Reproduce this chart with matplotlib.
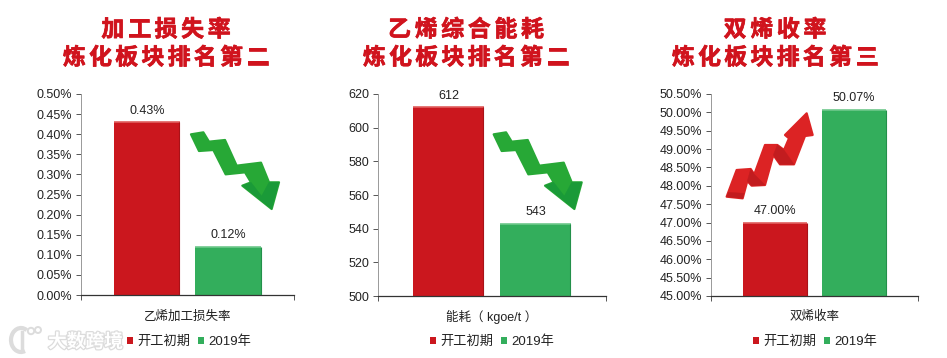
import matplotlib
matplotlib.use('Agg')
import matplotlib.pyplot as plt
from matplotlib.patches import Polygon, Circle, Arc
from matplotlib import patheffects as pe

W, H = 947, 358
plt.rcParams['font.family'] = ['Liberation Sans', 'Noto Sans CJK SC']

# datos de cada panel
series_names = ['开工初期', '2019年']
titles = [['加工损失率', '炼化板块排名第二'],
          ['乙烯综合能耗', '炼化板块排名第二'],
          ['双烯收率', '炼化板块排名第三']]
categories = ['乙烯加工损失率', '能耗（ kgoe/t ）', '双烯收率']

loss_values = [0.43, 0.12]
energy_values = [612, 543]
yield_values = [47.00, 50.07]

loss_labels = ['0.43%', '0.12%']
energy_labels = ['612', '543']
yield_labels = ['47.00%', '50.07%']

loss_ticks = [0.00, 0.05, 0.10, 0.15, 0.20, 0.25, 0.30, 0.35, 0.40, 0.45, 0.50]
energy_ticks = [500, 520, 540, 560, 580, 600, 620]
yield_ticks = [45.0, 45.5, 46.0, 46.5, 47.0, 47.5, 48.0, 48.5, 49.0, 49.5, 50.0, 50.5]

red, red_dark, red_light = '#cb171e', '#a81218', '#e0605f'
green, green_dark, green_light = '#33ae5c', '#23904a', '#6fc88c'

fig = plt.figure(figsize=(W / 100, H / 100), dpi=100, facecolor='white')


def panel(box, values, labels, ticks, fmt, category, legend_x):
    left, top, right, bottom = box
    ax = fig.add_axes([left / W, 1 - bottom / H, (right - left) / W, (bottom - top) / H])
    ax.set_xlim(-0.5, 0.5)
    ax.set_ylim(ticks[0], ticks[-1])
    xs = [-0.191, 0.191]
    bars = []
    for x, v, lab, c, cd, cl, name in zip(xs, values, labels, [red, green], [red_dark, green_dark],
                                          [red_light, green_light], series_names):
        b = ax.bar(x, v - ticks[0], 0.31, bottom=ticks[0], color=c, label=name, zorder=2)
        bars.append(b)
        # biselado de la barra
        ax.hlines(v, x - 0.155, x + 0.155, color=cl, lw=1.2, zorder=3)
        ax.vlines(x + 0.153, ticks[0], v, color=cd, lw=0.8, zorder=3)
        ax.annotate(lab, (x, v), xytext=(0, 4), textcoords='offset points', ha='center',
                    va='bottom', fontsize=9, color='#222222', annotation_clip=False)
    ax.set_yticks(ticks)
    ax.set_yticklabels([fmt % t for t in ticks], fontsize=9, color='#222222')
    ax.set_xticks([-0.5, 0.5])
    ax.set_xticklabels([])
    ax.tick_params(axis='both', length=3.5, width=0.7, color='#555555', pad=3)
    for s in ['top', 'right']:
        ax.spines[s].set_visible(False)
    ax.spines['left'].set_color('#999999')
    ax.spines['left'].set_linewidth(0.7)
    ax.spines['bottom'].set_color('#333333')
    ax.spines['bottom'].set_linewidth(0.9)
    fig.text((left + right) / 2 / W, 1 - 317 / H, category, ha='center', va='center',
             fontsize=9, color='#222222')
    fig.legend(handles=[bars[0], bars[1]], loc='center', bbox_to_anchor=(legend_x / W, 1 - 342 / H),
               ncol=2, frameon=False, fontsize=9.5, handlelength=0.45, handleheight=0.45,
               handletextpad=0.3, columnspacing=0.6, labelcolor='#222222')
    return ax


panel((81, 94, 294, 295), loss_values, loss_labels, loss_ticks, '%.2f%%', categories[0], 189)
panel((378, 94, 606, 296), energy_values, energy_labels, energy_ticks, '%d', categories[1], 492)
panel((711, 94, 918, 296), yield_values, yield_labels, yield_ticks, '%.2f%%', categories[2], 815)

# capa de decoracion en pixeles: titulos, flechas y marca de agua
deco = fig.add_axes([0, 0, 1, 1], zorder=10)
deco.set_xlim(0, W)
deco.set_ylim(H, 0)
deco.axis('off')
deco.patch.set_alpha(0)


def spaced_title(text, cx, cy, step):
    x0 = cx - step * (len(text) - 1) / 2
    for i, ch in enumerate(text):
        deco.text(x0 + i * step, cy, ch, ha='center', va='center', fontsize=16.5, color='#d0131d',
                  family='Noto Sans CJK SC', weight='bold',
                  path_effects=[pe.withStroke(linewidth=0.5, foreground='#d0131d')])


title_centers = [166, 466, 775]
for t, cx in zip(titles, title_centers):
    spaced_title(t[0], cx, 30, 26.6)
    spaced_title(t[1], cx, 58, 26.2)

# flechas
down_arrow = [(18, 28), (55, 22), (72, 50), (120, 45), (155, 122), (228, 113), (252, 172), (282, 172),
              (260, 252), (172, 182), (198, 172), (180, 142), (122, 148), (85, 75), (42, 78)]
down_dark = [[(252, 172), (282, 172), (260, 252), (225, 222)],
             [(172, 182), (198, 172), (260, 252)]]
up_arrow = [(20, 275), (50, 195), (92, 192), (103, 208), (135, 120), (172, 120), (192, 135), (207, 100),
            (195, 90), (260, 25), (278, 90), (255, 93), (222, 178), (180, 178), (160, 150), (135, 240),
            (95, 242), (82, 228), (68, 280)]
up_dark = [[(92, 192), (103, 208), (135, 240), (95, 242), (82, 228)],
           [(172, 120), (192, 135), (222, 178), (180, 178), (160, 150)],
           [(20, 275), (68, 280), (72, 265), (25, 262)]]


def draw_arrow(outline, dark, dx, dy, c, cd):
    conv = lambda pts: [(px / 3 + dx, py / 3 + dy) for px, py in pts]
    deco.add_patch(Polygon(conv(outline), closed=True, fc=c, ec=c, lw=1.6, joinstyle='round'))
    for pts in dark:
        deco.add_patch(Polygon(conv(pts), closed=True, fc=cd, ec=cd, lw=0.3))


draw_arrow(down_arrow, down_dark, 185, 125, '#27a836', '#1a9a38')
draw_arrow(down_arrow, down_dark, 487.7, 125, '#27a836', '#1a9a38')
draw_arrow(up_arrow, up_dark, 720, 105, '#dc2324', '#c21c1f')

# marca de agua
wm = '#dcdcdc'
deco.text(85.5, 342, '大数跨境', ha='center', va='center', fontsize=13.5, color='white',
          family='Noto Sans CJK SC', weight='bold',
          path_effects=[pe.withStroke(linewidth=1.8, foreground=wm)])
deco.add_patch(Arc((21, 340), 20, 24, theta1=70, theta2=300, ec=wm, lw=3))
deco.plot([22, 22], [332, 350], color=wm, lw=2.5)
for cx, cy, r in [(31, 331, 3.2), (38, 330, 3.0)]:
    deco.add_patch(Circle((cx, cy), r, fc='white', ec=wm, lw=1.4))

fig.savefig('out.png', dpi=100, facecolor='white')
